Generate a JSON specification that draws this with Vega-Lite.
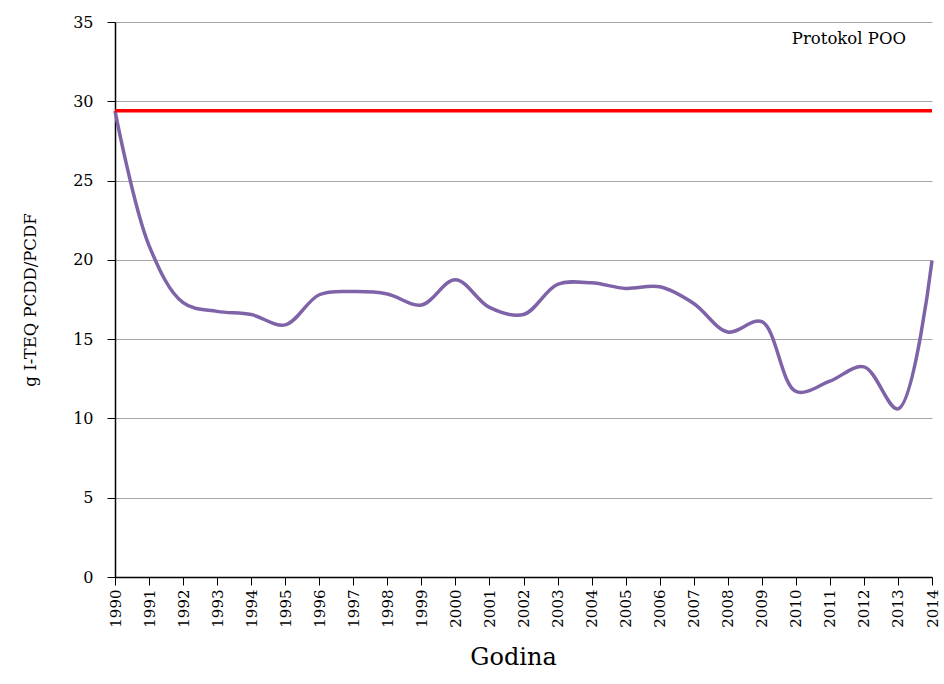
{
  "$schema": "https://vega.github.io/schema/vega-lite/v6.json",
  "width": 817,
  "height": 555,
  "autosize": "none",
  "padding": {"left": 115, "top": 22, "right": 12, "bottom": 107},
  "background": "white",
  "config": {
    "view": {"stroke": null},
    "font": "DejaVu Serif"
  },
  "datasets": {
    "emis": [
      {"godina": "1990", "vrijednost": 29.4},
      {"godina": "1991", "vrijednost": 20.9},
      {"godina": "1992", "vrijednost": 17.3},
      {"godina": "1993", "vrijednost": 16.75},
      {"godina": "1994", "vrijednost": 16.55},
      {"godina": "1995", "vrijednost": 15.9},
      {"godina": "1996", "vrijednost": 17.8},
      {"godina": "1997", "vrijednost": 18.0},
      {"godina": "1998", "vrijednost": 17.85},
      {"godina": "1999", "vrijednost": 17.15},
      {"godina": "2000", "vrijednost": 18.75},
      {"godina": "2001", "vrijednost": 17.0},
      {"godina": "2002", "vrijednost": 16.55},
      {"godina": "2003", "vrijednost": 18.45},
      {"godina": "2004", "vrijednost": 18.55},
      {"godina": "2005", "vrijednost": 18.2},
      {"godina": "2006", "vrijednost": 18.3},
      {"godina": "2007", "vrijednost": 17.25},
      {"godina": "2008", "vrijednost": 15.45},
      {"godina": "2009", "vrijednost": 16.1},
      {"godina": "2010", "vrijednost": 11.7},
      {"godina": "2011", "vrijednost": 12.35},
      {"godina": "2012", "vrijednost": 13.25},
      {"godina": "2013", "vrijednost": 10.6},
      {"godina": "2014", "vrijednost": 19.95}
    ],
    "protokol": [
      {"godina": "1990", "vrijednost": 29.4},
      {"godina": "2014", "vrijednost": 29.4}
    ],
    "oznaka": [
      {"godina": "2013", "vrijednost": 33.9, "tekst": "Protokol POO"}
    ]
  },
  "layer": [
    {
      "data": {"name": "emis"},
      "mark": {"type": "line", "color": "#7F63A8", "strokeWidth": 3.5, "interpolate": "catmull-rom"},
      "encoding": {
        "x": {
          "field": "godina",
          "type": "ordinal",
          "scale": {"type": "point", "padding": 0},
          "axis": {
            "labelAngle": 270,
            "labelAlign": "right",
            "labelBaseline": "middle",
            "labelFont": "DejaVu Serif",
            "labelFontSize": 15,
            "labelColor": "#000000",
            "labelPadding": 4,
            "labelOverlap": false,
            "tickSize": 8,
            "tickColor": "#000000",
            "domainColor": "#000000",
            "domainWidth": 1.5,
            "grid": false,
            "title": "Godina",
            "titleFont": "DejaVu Serif",
            "titleFontSize": 24,
            "titleFontWeight": "normal",
            "titleColor": "#000000",
            "titlePadding": 18,
            "titleX": 398,
            "titleAlign": "center"
          }
        },
        "y": {
          "field": "vrijednost",
          "type": "quantitative",
          "scale": {"domain": [0, 35], "nice": false},
          "axis": {
            "values": [0, 5, 10, 15, 20, 25, 30, 35],
            "labelFont": "DejaVu Serif",
            "labelFontSize": 16,
            "labelColor": "#000000",
            "labelPadding": 14,
            "tickSize": 8,
            "tickColor": "#000000",
            "domainColor": "#000000",
            "domainWidth": 1.5,
            "grid": true,
            "gridColor": "#A6A6A6",
            "gridWidth": 1.2,
            "title": "g I-TEQ PCDD/PCDF",
            "titleFont": "DejaVu Serif",
            "titleFontSize": 16.5,
            "titleFontWeight": "normal",
            "titleColor": "#000000",
            "titlePadding": 34
          }
        }
      }
    },
    {
      "data": {"name": "protokol"},
      "mark": {"type": "line", "color": "#FF0000", "strokeWidth": 3.5},
      "encoding": {
        "x": {"field": "godina", "type": "ordinal"},
        "y": {"field": "vrijednost", "type": "quantitative"}
      }
    },
    {
      "data": {"name": "oznaka"},
      "mark": {"type": "text", "align": "right", "baseline": "middle", "dx": 8, "font": "DejaVu Serif", "fontSize": 16.5, "color": "#000000"},
      "encoding": {
        "x": {"field": "godina", "type": "ordinal"},
        "y": {"field": "vrijednost", "type": "quantitative"},
        "text": {"field": "tekst"}
      }
    }
  ]
}
